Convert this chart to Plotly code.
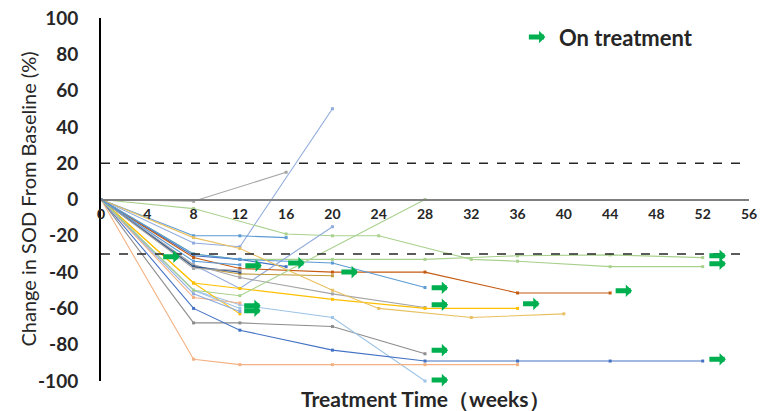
import plotly.graph_objects as go

# ---- data ----
series_colors = [
    "#A5A5A5", "#8FAADC", "#A9D18E", "#A9D18E", "#5B9BD5", "#4472C4",
    "#8FAADC", "#C55A11", "#BF9A3A", "#5B9BD5", "#A5A5A5", "#FFC000",
    "#E8C060", "#8C8C8C", "#9DC3E6", "#4472C4", "#F4B183", "#F4B183",
    "#FFC000", "#9DC3E6", "#8FAADC", "#A9D18E", "#2F5597", "#A5A5A5",
    "#5B9BD5",
]
series_weeks = [
    [0, 8, 16],
    [0, 8, 12, 20],
    [0, 8, 16, 20, 24, 32, 36, 44, 52],
    [0, 8, 12, 20, 28, 36, 44, 52],
    [0, 8, 12, 16],
    [0, 8, 12, 16],
    [0, 8, 12, 20],
    [0, 8, 12, 20, 28, 36, 44],
    [0, 8, 12, 20],
    [0, 8, 12, 20, 28],
    [0, 8, 12, 20, 28],
    [0, 8, 12, 20, 28, 36],
    [0, 8, 12, 20, 24, 32, 40],
    [0, 8, 12, 20, 28],
    [0, 8, 12, 20, 28],
    [0, 8, 12, 20, 28, 36, 44, 52],
    [0, 8, 12, 20, 28, 36],
    [0, 8, 12],
    [0, 8, 12],
    [0, 8, 12],
    [0, 8, 12],
    [0, 8, 12, 28],
    [0, 8, 12],
    [0, 8, 12],
    [0, 8, 12],
]
series_values = [
    [0, -1, 15],
    [0, -24, -26, 50],
    [0, -5, -19, -20, -20, -33, -34, -37, -37],
    [0, -30, -33, -33, -33, -31, -30.5, -32],
    [0, -20, -20, -21],
    [0, -31, -33, -37],
    [0, -36, -49, -15],
    [0, -32, -38, -40, -40, -51.5, -51.5],
    [0, -37, -41, -42],
    [0, -30, -33, -35, -48.5],
    [0, -36, -43, -52, -59.5],
    [0, -46, -49, -55, -60, -60],
    [0, -21, -27, -50, -60, -65, -63],
    [0, -68, -68, -70, -85],
    [0, -50, -58, -65, -100],
    [0, -60, -72, -83, -89, -89, -89, -89],
    [0, -88, -91, -91, -91, -91],
    [0, -54, -57],
    [0, -46, -63],
    [0, -50, -60],
    [0, -52, -61.7],
    [0, -50, -53, 0],
    [0, -37, -40],
    [0, -38, -39],
    [0, -34, -36],
]

arrow_weeks = [6.8, 13.9, 17.6, 22.2, 13.8, 13.8, 30.0, 30.0, 30.0, 30.0, 37.9, 45.9, 54.0, 54.0, 54.0]
arrow_values = [-31.5, -36.5, -35, -40, -58.5, -61.3, -48.6, -58, -83, -99.5, -57.5, -50.3, -31, -35.4, -88]

threshold_values = [20, -30]
x_ticks = list(range(0, 57, 4))
y_ticks = list(range(-100, 101, 20))
legend_label = "On treatment"
legend_pos = (38.4, 89.5)

FONT = "Lato"
GREEN = "#00B050"
ARROW = dict(ax=-18, ay=0, axref="pixel", ayref="pixel", text="", showarrow=True,
             arrowhead=1, arrowsize=0.42, arrowwidth=5, arrowcolor=GREEN,
             standoff=0, startstandoff=0)

fig = go.Figure()
for c, w, v in zip(series_colors, series_weeks, series_values):
    fig.add_trace(go.Scatter(
        x=w, y=v, mode="lines+markers",
        line=dict(color=c, width=1.1),
        marker=dict(color=c, size=3, symbol="square"),
        showlegend=False, hoverinfo="skip", cliponaxis=False,
    ))

for tv in threshold_values:
    fig.add_shape(type="line", xref="x", yref="y", x0=0, x1=56, y0=tv, y1=tv,
                  line=dict(color="#262626", width=1.5, dash="dash"))

for aw, av in zip(arrow_weeks, arrow_values):
    fig.add_annotation(x=aw, y=av, xref="x", yref="y", **ARROW)

fig.add_annotation(x=legend_pos[0], y=legend_pos[1], xref="x", yref="y", **ARROW)
fig.add_annotation(x=legend_pos[0] + 1.0, y=legend_pos[1], xref="x", yref="y",
                   text="<b>" + legend_label + "</b>", showarrow=False,
                   xanchor="left", yanchor="middle",
                   font=dict(family=FONT, size=22, color="#262626"))

fig.add_annotation(x=0.5, y=0, xref="paper", yref="paper", yanchor="middle",
                   yshift=-17,
                   text="<b>Treatment Time（weeks）</b>", showarrow=False,
                   font=dict(family=FONT, size=21, color="#262626"))

fig.add_annotation(x=0, y=0.5, xref="paper", yref="paper", xanchor="center",
                   yanchor="middle", xshift=-74, textangle=-90,
                   text="Change in SOD From Baseline (%)", showarrow=False,
                   font=dict(family=FONT, size=20, color="#262626"))

fig.update_layout(
    width=760, height=411,
    margin=dict(l=101, r=11, t=18, b=30),
    paper_bgcolor="white", plot_bgcolor="white",
    font=dict(family=FONT, color="#262626"),
    xaxis=dict(range=[0, 56], tickvals=x_ticks,
               ticktext=["<b>%d</b>" % t for t in x_ticks],
               tickfont=dict(size=14, color="#262626"),
               showgrid=False, zeroline=False, showline=True,
               linecolor="#7F7F7F", linewidth=2, ticks="",
               anchor="free", position=0.5, automargin=False,
               ticklabelstandoff=2, ticklabeloverflow="allow"),
    yaxis=dict(range=[-100, 100], tickvals=y_ticks,
               ticktext=["<b>%d</b>" % t for t in y_ticks],
               tickfont=dict(size=19, color="#262626"),
               showgrid=False, zeroline=False, showline=True,
               linecolor="black", linewidth=2, ticks="",
               ticklabelstandoff=17, automargin=False,
               ticklabeloverflow="allow"),
)

fig.write_html("out.html", config={"displayModeBar": False},
               post_script="document.body.style.margin='0';document.body.style.overflow='hidden';")
